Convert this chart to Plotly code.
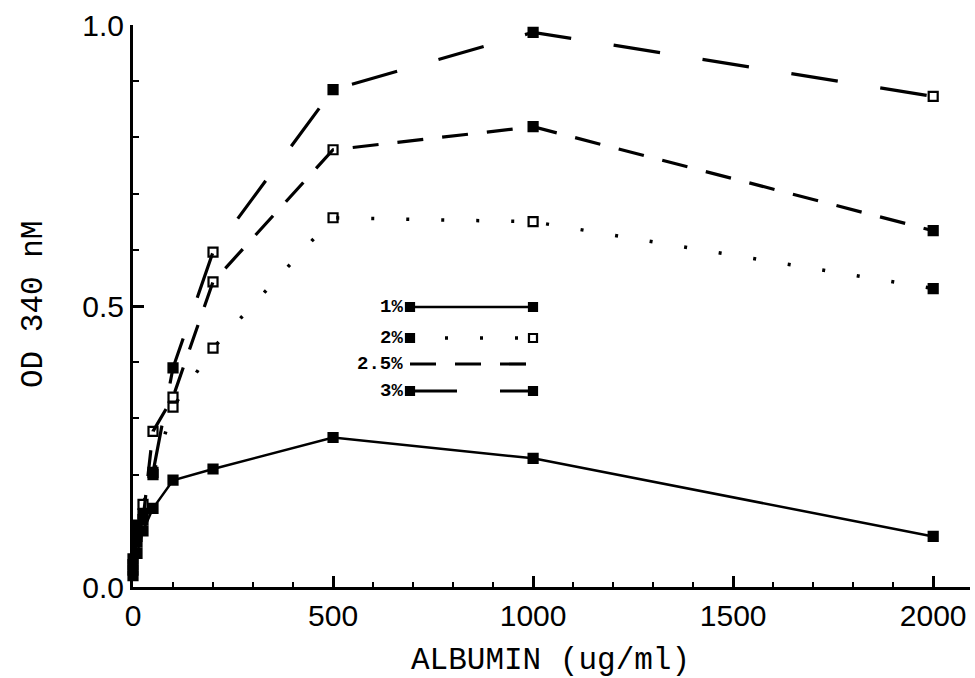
import plotly.graph_objects as go

# ---- data ----
albumin = [0, 10, 25, 50, 100, 200, 500, 1000, 2000]
od_1 = [0.02, 0.06, 0.10, 0.14, 0.19, 0.21, 0.266, 0.229, 0.09]
od_2 = [0.03, 0.08, 0.147, 0.20, 0.32, 0.425, 0.657, 0.650, 0.531]
od_25 = [0.04, 0.09, 0.12, 0.277, 0.338, 0.543, 0.778, 0.819, 0.634]
od_3 = [0.05, 0.11, 0.13, 0.204, 0.39, 0.596, 0.885, 0.987, 0.873]
series_names = ["1%", "2%", "2.5%", "3%"]
x_ticks = [0, 500, 1000, 1500, 2000]
y_ticks = [0.0, 0.5, 1.0]

# ---- styles ----
F, O = "square", "square-open"
sym_1 = [F] * 9
sym_2 = [F, F, O, F, O, O, O, O, F]
sym_25 = [F, F, F, O, O, O, O, F, F]
sym_3 = [F, F, F, F, F, O, F, F, O]
dashes = ["solid", "3px,32px", "26px,19px", "47px,43px"]
widths = [2.5, 3.5, 3.2, 3.2]

fig = go.Figure()
for name, ys, syms, dash, w in zip(series_names, [od_1, od_2, od_25, od_3],
                                   [sym_1, sym_2, sym_25, sym_3], dashes, widths):
    fig.add_trace(go.Scatter(
        x=albumin, y=ys, name=name, mode="lines+markers",
        line=dict(color="black", width=w, dash=dash),
        marker=dict(symbol=syms, size=9, color="black",
                    line=dict(color="black", width=2.2)),
        showlegend=False, cliponaxis=False,
    ))

# plot area in pixels
L, R, T, B = 133, 970, 25, 587
W, H = 975, 678


def px(X):
    return (X - L) / (R - L)


def py(Y):
    return (B - Y) / (B - T)


shapes = []
annotations = []
leg_rows = [307, 338, 364, 391]
leg_x0, leg_x1 = 410, 533
leg_markers = [(F, F), (F, O), (None, None), (F, F)]
leg_dash = ["solid", "3px,32px", "26px,19px", "47px,43px"]
for name, yy, (m0, m1), dash, w in zip(series_names, leg_rows, leg_markers, leg_dash, widths):
    x_end = leg_x1 if m1 else 528
    shapes.append(dict(type="line", xref="paper", yref="paper",
                       x0=px(leg_x0), x1=px(x_end), y0=py(yy), y1=py(yy),
                       line=dict(color="black", width=w, dash=dash)))
    for xm, m in ((leg_x0, m0), (leg_x1, m1)):
        if m is None:
            continue
        shapes.append(dict(type="rect", xref="paper", yref="paper",
                           x0=px(xm - 4), x1=px(xm + 4), y0=py(yy + 4), y1=py(yy - 4),
                           line=dict(color="black", width=2.2),
                           fillcolor="black" if m == F else "white"))
    annotations.append(dict(xref="paper", yref="paper", x=px(405), y=py(yy),
                            text="<b>" + name + "</b>", showarrow=False,
                            xanchor="right", yanchor="middle",
                            font=dict(family="Liberation Mono", size=19, color="black")))

# axis titles
annotations.append(dict(xref="paper", yref="paper", x=px(550), y=py(660),
                        text="ALBUMIN (ug/ml)", showarrow=False,
                        xanchor="center", yanchor="middle",
                        font=dict(family="Liberation Mono", size=31, color="black")))
annotations.append(dict(xref="paper", yref="paper", x=px(33), y=py(305),
                        text="OD 340 nM", showarrow=False, textangle=-90,
                        xanchor="center", yanchor="middle",
                        font=dict(family="Liberation Mono", size=31, color="black")))

fig.update_layout(
    width=W, height=H,
    margin=dict(l=L, r=W - R, t=T, b=H - B, autoexpand=False),
    paper_bgcolor="white", plot_bgcolor="white",
    shapes=shapes, annotations=annotations,
    font=dict(family="Liberation Sans", size=30, color="black"),
)
fig.update_xaxes(
    range=[0, 2092], showgrid=False, zeroline=False, automargin=False,
    showline=True, linecolor="black", linewidth=3,
    tickmode="array", tickvals=x_ticks, ticktext=[str(v) for v in x_ticks],
    ticks="inside", ticklen=11, tickwidth=2.5, tickcolor="black",
    minor=dict(ticks="inside", ticklen=5, tickwidth=2, dtick=100, tick0=0, tickcolor="black"),
    ticklabelstandoff=0,
    tickfont=dict(family="Liberation Sans", size=30, color="black"),
)
fig.update_yaxes(
    range=[0, 1.0], showgrid=False, zeroline=False, automargin=False,
    showline=True, linecolor="black", linewidth=3,
    tickmode="array", tickvals=y_ticks, ticktext=[f"{v:.1f}" for v in y_ticks],
    ticks="inside", ticklen=11, tickwidth=2.5, tickcolor="black",
    minor=dict(ticks="inside", ticklen=6, tickwidth=2, dtick=0.1, tick0=0, tickcolor="black"),
    tickfont=dict(family="Liberation Sans", size=30, color="black"),
)

fig.write_html(
    "out.html",
    config={"displayModeBar": False},
    post_script="document.body.style.margin='0';document.body.style.padding='0';document.body.style.overflow='hidden';",
)
